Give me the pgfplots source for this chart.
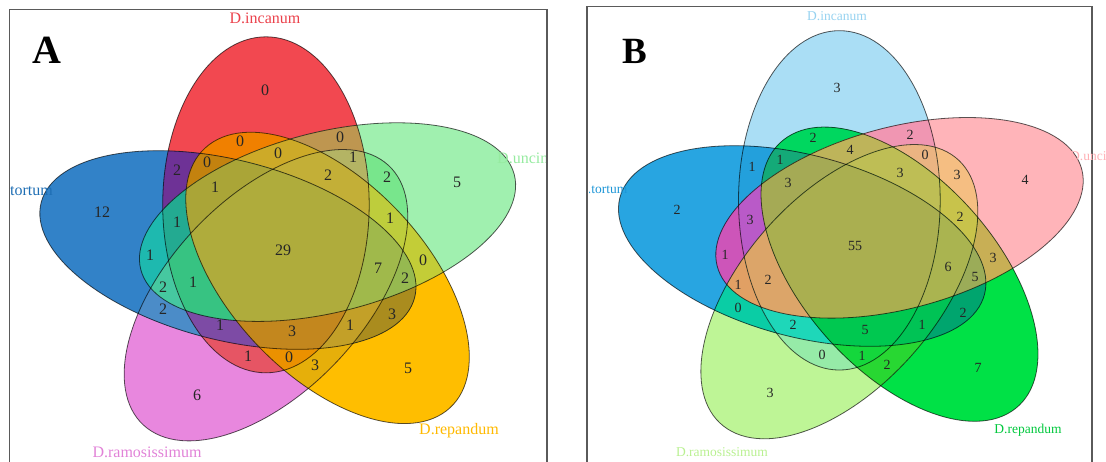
\documentclass[border=0pt]{standalone}
\usepackage{pgfplots}
\pgfplotsset{compat=1.18}
\usepackage{fontspec}
\setmainfont{Liberation Serif}

\tikzset{
 EA1/.style={shift={(axis cs:283,250)},xscale=1.16,shift={(-14.7pt,45.2pt)},rotate=90},
 EA2/.style={shift={(axis cs:283,250)},xscale=1.16,shift={(38.4pt,27.9pt)},rotate=18},
 EA3/.style={shift={(axis cs:283,250)},xscale=1.16,shift={(38.4pt,-27.9pt)},rotate=-54},
 EA4/.style={shift={(axis cs:283,250)},xscale=1.16,shift={(-14.7pt,-45.2pt)},rotate=54},
 EA5/.style={shift={(axis cs:283,250)},xscale=1.16,shift={(-47.5pt,0pt)},rotate=-18},
 EB1/.style={shift={(axis cs:856,246)},xscale=1.133,yscale=1.01,shift={(-14.7pt,45.2pt)},rotate=90},
 EB2/.style={shift={(axis cs:856,246)},xscale=1.133,yscale=1.01,shift={(38.4pt,27.9pt)},rotate=18},
 EB3/.style={shift={(axis cs:856,246)},xscale=1.133,yscale=1.01,shift={(38.4pt,-27.9pt)},rotate=-54},
 EB4/.style={shift={(axis cs:856,246)},xscale=1.133,yscale=1.01,shift={(-14.7pt,-45.2pt)},rotate=54},
 EB5/.style={shift={(axis cs:856,246)},xscale=1.133,yscale=1.01,shift={(-47.5pt,0pt)},rotate=-18},
 outl/.style={draw=black, draw opacity=0.65, line width=0.8pt}
}
\newcommand{\EP}{(0pt,0pt) ellipse [x radius=168pt, y radius=89pt]}
\def\rc#1#2#3{\if#31\clip[#1#2]\EP;\fi}
\def\regparse#1#2#3#4#5#6\relax{\rc{E#1}{1}{#2}\rc{E#1}{2}{#3}\rc{E#1}{3}{#4}\rc{E#1}{4}{#5}\rc{E#1}{5}{#6}}
\newcommand{\reg}[5]{\begin{scope}\regparse{#1}#2\relax\fill[fill={rgb,255:red,#3;green,#4;blue,#5}] (axis cs:0,0) rectangle (axis cs:1106,461);\end{scope}}

\pgfplotstableread{
x y l
265 90 0
240 141 0
207 162 0
177 170 2
215 187 1
278 153 0
340 137 0
353 157 1
328 175 2
387 177 2
457 182 5
390 218 1
102 212 12
177 222 1
283 250 29
150 255 1
193 282 1
163 287 2
163 309 2
220 325 1
248 356 1
197 395 6
378 268 7
423 260 0
405 278 2
292 331 3
350 325 1
392 314 3
289 357 0
315 365 3
408 368 5
}\numsA
\pgfplotstableread{
x y l
837 88 3
813 138 2
780 160 1
752 167 1
788 183 3
677 210 2
750 220 3
850 150 4
910 135 2
925 155 0
900 173 3
957 175 3
1025 180 4
960 217 2
855 246 55
725 255 1
738 285 1
768 280 2
738 308 0
793 325 2
822 355 0
770 393 3
948 267 6
993 258 3
975 277 5
963 313 2
922 325 1
865 330 5
862 356 1
887 365 2
978 368 7
}\numsB

\begin{document}
\begin{tikzpicture}
\begin{axis}[name=ax, width=1106pt, height=461pt, scale only axis,
  xmin=0, xmax=1106, ymin=0, ymax=461, y dir=reverse, hide axis, clip=false]
\pgfplotsextra{
% ---------- Panel A regions (bits: incanum, uncir, repandum, ramosissimum, tortum)
\reg{A}{10000}{242}{72}{80}
\reg{A}{01000}{160}{240}{175}
\reg{A}{00100}{255}{190}{0}
\reg{A}{00010}{232}{135}{222}
\reg{A}{00001}{50}{130}{200}
\reg{A}{10100}{240}{128}{0}
\reg{A}{10001}{110}{50}{150}
\reg{A}{11000}{190}{150}{80}
\reg{A}{01010}{120}{230}{140}
\reg{A}{01001}{30}{185}{175}
\reg{A}{00011}{75}{140}{200}
\reg{A}{10010}{230}{85}{100}
\reg{A}{01100}{195}{205}{55}
\reg{A}{00101}{170}{140}{30}
\reg{A}{00110}{230}{175}{10}
\reg{A}{10101}{195}{130}{15}
\reg{A}{11100}{205}{170}{40}
\reg{A}{11010}{180}{180}{100}
\reg{A}{01110}{190}{205}{60}
\reg{A}{11001}{35}{170}{145}
\reg{A}{01011}{70}{200}{160}
\reg{A}{10011}{125}{75}{165}
\reg{A}{01101}{150}{185}{80}
\reg{A}{00111}{195}{160}{40}
\reg{A}{10110}{235}{145}{0}
\reg{A}{11101}{170}{165}{55}
\reg{A}{11110}{195}{175}{55}
\reg{A}{11011}{55}{195}{130}
\reg{A}{01111}{160}{185}{75}
\reg{A}{10111}{195}{135}{30}
\reg{A}{11111}{175}{172}{60}
% ---------- Panel B regions
\reg{B}{10000}{170}{222}{245}
\reg{B}{01000}{255}{180}{185}
\reg{B}{00100}{0}{225}{70}
\reg{B}{00010}{190}{245}{150}
\reg{B}{00001}{40}{165}{225}
\reg{B}{10100}{0}{215}{95}
\reg{B}{10001}{35}{160}{220}
\reg{B}{11000}{240}{150}{178}
\reg{B}{01010}{245}{190}{130}
\reg{B}{01001}{205}{85}{185}
\reg{B}{00011}{10}{205}{165}
\reg{B}{10010}{150}{235}{168}
\reg{B}{01100}{200}{175}{85}
\reg{B}{00101}{0}{165}{110}
\reg{B}{00110}{40}{215}{50}
\reg{B}{10101}{20}{170}{120}
\reg{B}{11100}{190}{180}{90}
\reg{B}{11010}{235}{180}{130}
\reg{B}{01110}{200}{195}{75}
\reg{B}{11001}{185}{90}{200}
\reg{B}{01011}{225}{160}{100}
\reg{B}{10011}{30}{215}{185}
\reg{B}{01101}{155}{172}{88}
\reg{B}{00111}{0}{195}{85}
\reg{B}{10110}{20}{215}{60}
\reg{B}{11101}{165}{170}{85}
\reg{B}{11110}{190}{190}{85}
\reg{B}{11011}{220}{165}{105}
\reg{B}{01111}{170}{180}{80}
\reg{B}{10111}{0}{200}{80}
\reg{B}{11111}{170}{175}{80}
% ---------- outlines
\draw[EA1,outl] \EP; \draw[EA2,outl] \EP; \draw[EA3,outl] \EP; \draw[EA4,outl] \EP; \draw[EA5,outl] \EP;
\draw[EB1,outl] \EP; \draw[EB2,outl] \EP; \draw[EB3,outl] \EP; \draw[EB4,outl] \EP; \draw[EB5,outl] \EP;
% ---------- frames
\draw[line width=1.6pt, draw={rgb,255:red,90;green,90;blue,90}] (axis cs:9.3,480) -- (axis cs:9.3,9.3) -- (axis cs:547,9.3) -- (axis cs:547,480);
\draw[line width=1.6pt, draw={rgb,255:red,90;green,90;blue,90}] (axis cs:587,480) -- (axis cs:587,6.5) -- (axis cs:1092,6.5) -- (axis cs:1092,480);
% ---------- panel letters
\node[font=\fontsize{40}{40}\selectfont\bfseries, anchor=base, inner sep=0pt] at (axis cs:46.5,63) {A};
\node[font=\fontsize{37}{37}\selectfont\bfseries, anchor=base, inner sep=0pt] at (axis cs:635,63) {B};
% ---------- set labels panel A
\begin{scope}
\clip (axis cs:10.5,10.5) rectangle (axis cs:545.5,470);
\node[font=\fontsize{16}{16}\selectfont, text={rgb,255:red,235;green,65;blue,75}, anchor=base, inner sep=0pt] at (axis cs:265,23.5) {D.incanum};
\node[font=\fontsize{16}{16}\selectfont, text={rgb,255:red,30;green,110;blue,180}, anchor=base east, inner sep=0pt] at (axis cs:53,195) {D.tortum};
\node[font=\fontsize{16}{16}\selectfont, text={rgb,255:red,150;green,235;blue,160}, anchor=base west, inner sep=0pt] at (axis cs:497,163) {D.uncinatum};
\node[font=\fontsize{16}{16}\selectfont, text={rgb,255:red,225;green,130;blue,215}, anchor=base, inner sep=0pt] at (axis cs:147,457.5) {D.ramosissimum};
\node[font=\fontsize{16}{16}\selectfont, text={rgb,255:red,255;green,185;blue,0}, anchor=base, inner sep=0pt] at (axis cs:459,434) {D.repandum};
\end{scope}
% ---------- set labels panel B
\begin{scope}
\clip (axis cs:589.5,8) rectangle (axis cs:1106,470);
\node[font=\fontsize{13.5}{13.5}\selectfont, text={rgb,255:red,150;green,210;blue,240}, anchor=base, inner sep=0pt] at (axis cs:837,20) {D.incanum};
\node[font=\fontsize{13.5}{13.5}\selectfont, text={rgb,255:red,30;green,150;blue,215}, anchor=base east, inner sep=0pt] at (axis cs:627.5,193) {D.tortum};
\node[font=\fontsize{13.5}{13.5}\selectfont, text={rgb,255:red,255;green,175;blue,180}, anchor=base west, inner sep=0pt] at (axis cs:1070,160) {D.uncinatum};
\node[font=\fontsize{13.5}{13.5}\selectfont, text={rgb,255:red,185;green,240;blue,145}, anchor=base, inner sep=0pt] at (axis cs:722,456) {D.ramosissimum};
\node[font=\fontsize{13.5}{13.5}\selectfont, text={rgb,255:red,0;green,200;blue,60}, anchor=base, inner sep=0pt] at (axis cs:1028,433) {D.repandum};
\end{scope}
}
\addplot[draw=none, mark=none, nodes near coords, point meta=explicit symbolic,
  every node near coord/.append style={anchor=center, inner sep=0pt, font=\fontsize{16}{16}\selectfont, text=black!85}]
  table[x=x, y=y, meta=l] {\numsA};
\addplot[draw=none, mark=none, nodes near coords, point meta=explicit symbolic,
  every node near coord/.append style={anchor=center, inner sep=0pt, font=\fontsize{14}{14}\selectfont, text=black!85}]
  table[x=x, y=y, meta=l] {\numsB};
\end{axis}
\pgfresetboundingbox
\path[use as bounding box] (ax.south west) rectangle (ax.north east);
\end{tikzpicture}
\end{document}
